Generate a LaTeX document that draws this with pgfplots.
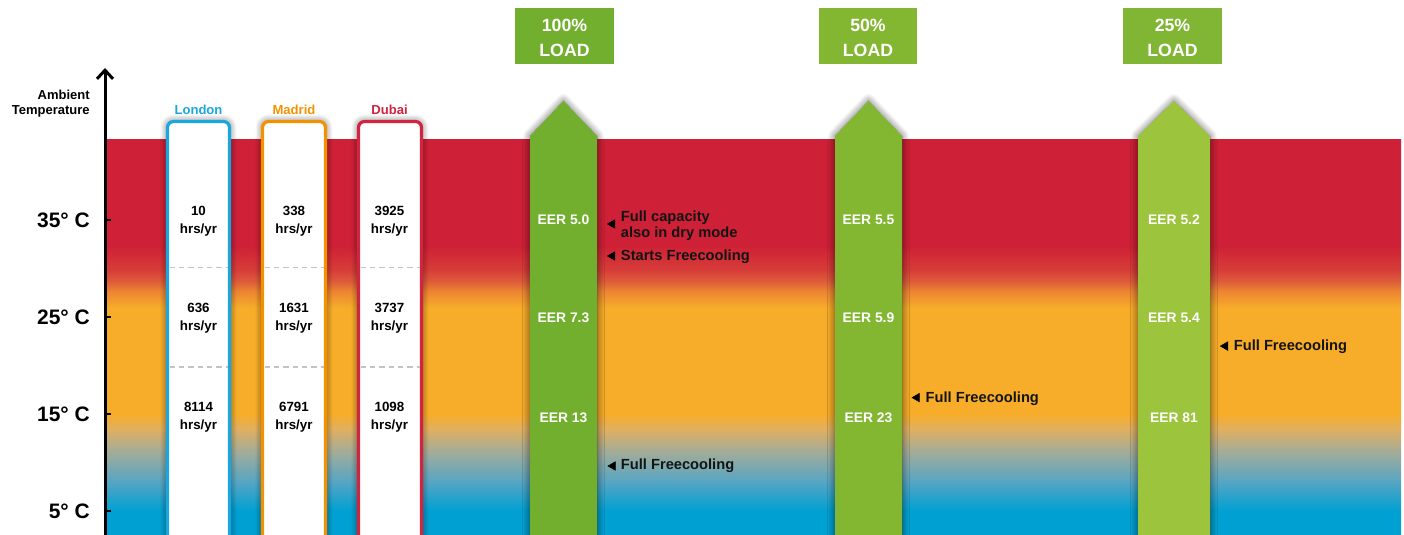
\documentclass[border=0pt]{standalone}
\usepackage{pgfplots}
\pgfplotsset{compat=1.18}
\usepackage{fontspec}
\setmainfont{Liberation Sans}
\usetikzlibrary{arrows.meta,shadows.blur}

\definecolor{cred}{RGB}{206,32,54}
\definecolor{corange}{RGB}{247,173,41}
\definecolor{cblue}{RGB}{0,160,210}
\definecolor{cb1}{RGB}{85,165,195}
\definecolor{cb2}{RGB}{160,172,155}
\definecolor{cb3}{RGB}{225,175,95}
\definecolor{co1}{RGB}{236,132,50}
\definecolor{co2}{RGB}{222,92,58}
\definecolor{co3}{RGB}{214,60,56}
\definecolor{london}{RGB}{26,166,222}
\definecolor{madrid}{RGB}{243,146,0}
\definecolor{dubai}{RGB}{210,35,63}
\definecolor{gA}{RGB}{115,175,46}
\definecolor{gB}{RGB}{131,183,50}
\definecolor{gC}{RGB}{156,196,60}
\definecolor{gCbox}{RGB}{128,182,52}
\definecolor{dashgray}{RGB}{195,195,195}

\pgfdeclareverticalshading{tempgrad}{100bp}{%
color(0bp)=(cblue); color(25bp)=(cblue); color(28.04bp)=(cblue);
color(31.72bp)=(cb1); color(35.4bp)=(cb2); color(38.47bp)=(cb3);
color(40.32bp)=(corange); color(53.7bp)=(corange); color(55.9bp)=(co1);
color(57.1bp)=(co2); color(58.6bp)=(co3); color(61.7bp)=(cred);
color(75bp)=(cred); color(100bp)=(cred)}

\newcommand\fsz[2]{\fontsize{#1}{#2}\selectfont\bfseries}

\tikzset{
 vals/.style={font=\fsz{10pt}{13.5pt}, align=center, inner sep=0pt, text=black},
 eer/.style={font=\fsz{10.4pt}{12pt}, text=white, inner sep=0pt},
 ann/.style={font=\fsz{11pt}{12pt}, anchor=west, align=left, inner sep=0pt, text=black!92},
 load/.style={font=\fsz{13.3pt}{18.75pt}, text=white, align=center, inner sep=0pt},
 city/.style={font=\fsz{9.8pt}{11pt}, inner sep=0pt},
 sep/.style={dashgray, line width=0.9pt, dash pattern=on 4pt off 3pt},
 shad/.style={blur shadow={shadow xshift=0pt, shadow yshift=0pt, shadow blur radius=5.5pt, shadow blur steps=14, shadow opacity=60}},
}

\begin{document}
\begin{tikzpicture}
\begin{axis}[
  width=1053pt, height=401.25pt, scale only axis,
  xmin=-105, xmax=1299, ymin=2.526, ymax=57.68,
  axis x line=none, axis y line=middle,
  axis line style={draw=none},
  xtick=\empty,
  ytick={5,15,25,35}, yticklabels={5° C,15° C,25° C,35° C},
  yticklabel style={font=\fsz{15.7pt}{18pt}, anchor=east, inner sep=0pt, xshift=-11.25pt},
  tick style={black, line width=1.5pt},
  major tick length=4.5pt, tick align=inside,
  axis on top,
  clip=true,
]
% temperature gradient background
\addplot[draw=none, shade, shading=tempgrad] coordinates {(0,2.526) (0,43.25) (1296,43.25) (1296,2.526)} -- cycle;

% ambient temperature axis arrow
\addplot[black, line width=2.25pt, -{Straight Barb[length=6.5pt, width=12pt]}] coordinates {(0,1) (0,50.67)};

% city columns
\addplot[shad, draw=london, fill=white, line width=2.4pt, rounded corners=4.5pt] coordinates {(62.5,1) (62.5,45.15) (124.5,45.15) (124.5,1)} -- cycle;
\addplot[shad, draw=madrid, fill=white, line width=2.4pt, rounded corners=4.5pt] coordinates {(157.5,1) (157.5,45.15) (220.5,45.15) (220.5,1)} -- cycle;
\addplot[shad, draw=dubai, fill=white, line width=2.4pt, rounded corners=4.5pt] coordinates {(253.5,1) (253.5,45.15) (316.5,45.15) (316.5,1)} -- cycle;
% dashed separators
\addplot[sep] coordinates {(64.5,30.1) (122.5,30.1)};
\addplot[sep] coordinates {(64.5,19.85) (122.5,19.85)};
\addplot[sep] coordinates {(159.5,30.1) (218.5,30.1)};
\addplot[sep] coordinates {(159.5,19.85) (218.5,19.85)};
\addplot[sep] coordinates {(255.5,30.1) (314.5,30.1)};
\addplot[sep] coordinates {(255.5,19.85) (314.5,19.85)};

% load arrows
\addplot[shad, fill=gA, draw=none] coordinates {(425,1) (425,43.66) (458.5,47.27) (492,43.66) (492,1)} -- cycle;
\addplot[shad, fill=gB, draw=none] coordinates {(730,1) (730,43.66) (763.5,47.27) (797,43.66) (797,1)} -- cycle;
\addplot[shad, fill=gC, draw=none] coordinates {(1033,1) (1033,43.66) (1069,47.27) (1105,43.66) (1105,1)} -- cycle;

% load boxes
\addplot[fill=gA, draw=none] coordinates {(410,51.08) (410,56.86) (509,56.86) (509,51.08)} -- cycle;
\addplot[fill=gB, draw=none] coordinates {(714,51.08) (714,56.86) (812,56.86) (812,51.08)} -- cycle;
\addplot[fill=gCbox, draw=none] coordinates {(1018,51.08) (1018,56.86) (1117,56.86) (1117,51.08)} -- cycle;

% annotation pointers
\addplot[only marks, mark=triangle*, mark size=3.7pt, mark options={rotate=90, fill=black, draw=none}] coordinates {(507.4,34.59) (507.4,31.29) (507.9,9.64) (812,16.69) (1120.3,22.0)};

% texts
\node[anchor=east, align=right, inner sep=0pt, font=\fsz{9.75pt}{10.6pt}] at (axis cs:-15,47.0) {Ambient\\Temperature};

\node[city, text=london] at (axis cs:93.5,46.34) {London};
\node[city, text=madrid] at (axis cs:189,46.34) {Madrid};
\node[city, text=dubai] at (axis cs:284.5,46.34) {Dubai};

\node[vals] at (axis cs:93.5,34.9) {10\\hrs/yr};
\node[vals] at (axis cs:189,34.9) {338\\hrs/yr};
\node[vals] at (axis cs:284.5,34.9) {3925\\hrs/yr};
\node[vals] at (axis cs:93.5,24.86) {636\\hrs/yr};
\node[vals] at (axis cs:189,24.86) {1631\\hrs/yr};
\node[vals] at (axis cs:284.5,24.86) {3737\\hrs/yr};
\node[vals] at (axis cs:93.5,14.64) {8114\\hrs/yr};
\node[vals] at (axis cs:189,14.64) {6791\\hrs/yr};
\node[vals] at (axis cs:284.5,14.64) {1098\\hrs/yr};

\node[load] at (axis cs:459.5,53.81) {100\%\\LOAD};
\node[load] at (axis cs:763,53.81) {50\%\\LOAD};
\node[load] at (axis cs:1067.5,53.81) {25\%\\LOAD};

\node[eer] at (axis cs:458.5,35) {EER 5.0};
\node[eer] at (axis cs:458.5,24.93) {EER 7.3};
\node[eer] at (axis cs:458.5,14.66) {EER 13};
\node[eer] at (axis cs:763.5,35) {EER 5.5};
\node[eer] at (axis cs:763.5,24.93) {EER 5.9};
\node[eer] at (axis cs:763.5,14.66) {EER 23};
\node[eer] at (axis cs:1069,35) {EER 5.2};
\node[eer] at (axis cs:1069,24.93) {EER 5.4};
\node[eer] at (axis cs:1069,14.66) {EER 81};

\node[ann] at (axis cs:515.7,34.45) {Full capacity\\also in dry mode};
\node[ann] at (axis cs:515.7,31.19) {Starts Freecooling};
\node[ann] at (axis cs:515.7,9.64) {Full Freecooling};
\node[ann] at (axis cs:820.4,16.6) {Full Freecooling};
\node[ann] at (axis cs:1128.6,21.9) {Full Freecooling};
\end{axis}
\path (current axis.south west) rectangle (current axis.north east);
\end{tikzpicture}
\end{document}
